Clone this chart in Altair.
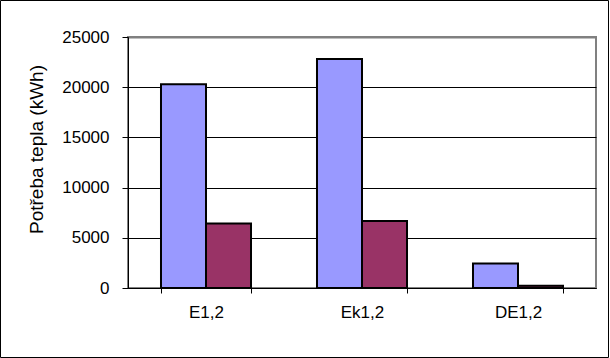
import altair as alt
import pandas as pd

categories = ["E1,2", "Ek1,2", "DE1,2"]
series_names = ["Řada 1", "Řada 2"]
series1 = [20300, 22800, 2450]
series2 = [6430, 6670, 220]
y_ticks = [0, 5000, 10000, 15000, 20000, 25000]
colors = ["#9999FF", "#993366"]

rows = []
for c, a, b in zip(categories, series1, series2):
    rows.append({"kat": c, "serie": series_names[0], "hodnota": a})
    rows.append({"kat": c, "serie": series_names[1], "hodnota": b})
df = pd.DataFrame(rows)

FONT = "Liberation Sans"

bars = alt.Chart(df).mark_bar(stroke="black", strokeWidth=2).encode(
    x=alt.X(
        "kat:N",
        sort=categories,
        scale=alt.Scale(paddingInner=0.423, paddingOuter=0.2115),
        axis=alt.Axis(
            title=None,
            labelAngle=0,
            tickBand="extent",
            tickSize=5,
            tickColor="black",
            domainColor="black",
            labelPadding=11,
            labelFontSize=17,
            labelFont=FONT,
            labelColor="black",
            grid=False,
        ),
    ),
    xOffset=alt.XOffset("serie:N", sort=series_names, scale=alt.Scale(paddingInner=0, paddingOuter=0)),
    y=alt.Y(
        "hodnota:Q",
        scale=alt.Scale(domain=[0, 25000], nice=False),
        axis=alt.Axis(
            title="Potřeba tepla (kWh)",
            values=y_ticks,
            format="d",
            tickSize=6,
            tickColor="black",
            domainColor="black",
            labelPadding=13,
            labelFontSize=17,
            labelFont=FONT,
            labelColor="black",
            titleFont=FONT,
            titleFontSize=19,
            titleFontWeight="normal",
            titleColor="black",
            titleAngle=-90,
            titleBaseline="alphabetic",
            titleX=-86,
            titleY=112,
            gridColor={"condition": {"test": "datum.value >= 25000", "value": "#808080"}, "value": "black"},
            gridWidth={"condition": {"test": "datum.value >= 25000", "value": 2}, "value": 1},
        ),
    ),
    color=alt.Color("serie:N", scale=alt.Scale(domain=series_names, range=colors), legend=None),
)

frame = alt.Chart(pd.DataFrame({"a": [0]})).mark_rect(
    fill=None, stroke="black", strokeWidth=1
).encode(
    x=alt.value(-127.5), x2=alt.value(480.5), y=alt.value(-36.5), y2=alt.value(320.5)
)

chart = alt.layer(bars, frame).properties(
    width=468,
    height=251,
    autosize=alt.AutoSizeParams(type="none"),
    padding={"left": 128, "top": 37, "right": 14, "bottom": 70},
    background="white",
).configure_view(stroke="#808080", strokeWidth=2)

chart.save("out.html", embed_options={"renderer": "svg", "actions": False})
